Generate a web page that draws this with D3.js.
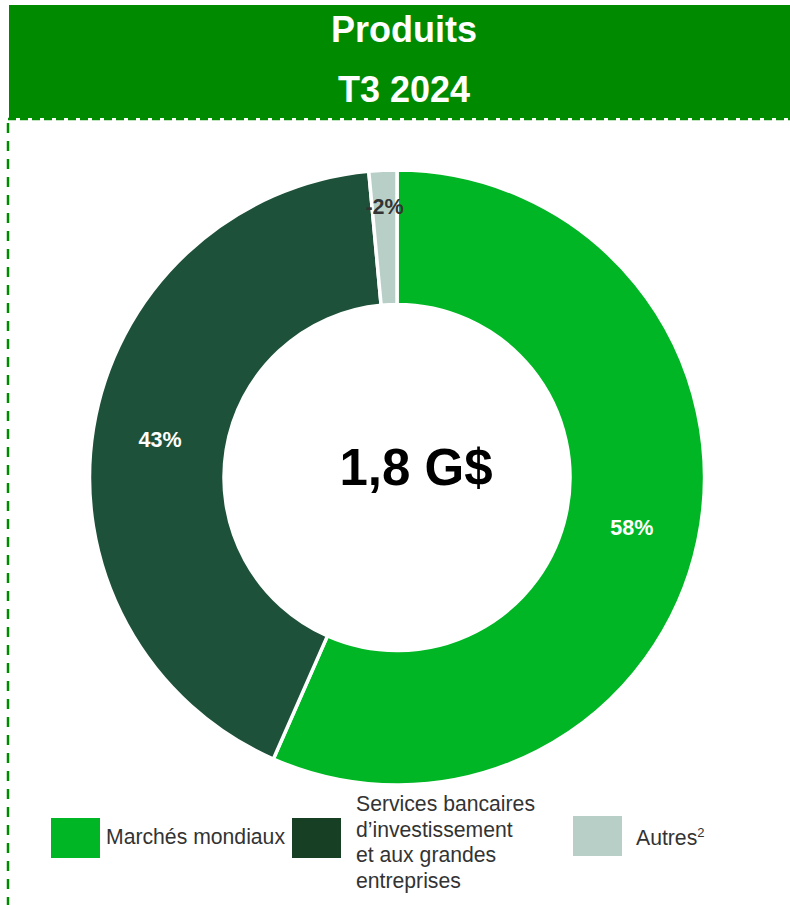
<!DOCTYPE html>
<html>
<head>
<meta charset="utf-8">
<script src="https://cdn.jsdelivr.net/npm/d3@7"></script>
<style>
  html, body { margin: 0; padding: 0; background: #fff; }
  svg { display: block; font-family: "Liberation Sans", Arial, sans-serif; }
</style>
</head>
<body>
<svg id="chart" width="790" height="905"></svg>
<script>
// ---- data ----
const titleLines = ["Produits", "T3 2024"];
const totalLabel = "1,8 G$";
const categories = ["Marchés mondiaux", "Services bancaires d’investissement et aux grandes entreprises", "Autres"];
const shares = [58, 43, -1.5];              // % of revenue (slice size uses magnitude)
const shareLabels = ["58%", "43%", "-2%"];
const sliceColors = ["#00B624", "#1E5139", "#B8CFC8"];
const legendColors = ["#00B624", "#173F24", "#B8CFC8"];
const labelColors = ["#ffffff", "#ffffff", "#333333"];

const svg = d3.select("#chart");

// header
svg.append("rect").attr("x", 9).attr("y", 5).attr("width", 781).attr("height", 113).attr("fill", "#008A00");
svg.append("line").attr("x1", 8).attr("x2", 790).attr("y1", 119).attr("y2", 119)
  .attr("stroke", "#008A00").attr("stroke-width", 2.5).attr("stroke-dasharray", "8,4");
svg.append("line").attr("x1", 8).attr("x2", 8).attr("y1", 123).attr("y2", 905)
  .attr("stroke", "#008A00").attr("stroke-width", 2.5).attr("stroke-dasharray", "10,8");
svg.selectAll("text.title").data(titleLines).enter().append("text")
  .attr("class", "title")
  .attr("x", 404).attr("y", (d, i) => 42 + i * 60)
  .attr("text-anchor", "middle").attr("fill", "#fff")
  .attr("font-weight", "bold").attr("font-size", 36)
  .text(d => d);

// donut
const cx = 397, cy = 477.5, rOuter = 307.5, rInner = 173;
const g = svg.append("g").attr("transform", `translate(${cx},${cy})`);
const pie = d3.pie().sort(null).value(d => Math.abs(d.v));
const arcs = pie(shares.map((v, i) => ({ v, i })));
const arc = d3.arc().innerRadius(rInner).outerRadius(rOuter);
g.selectAll("path").data(arcs).enter().append("path")
  .attr("d", arc)
  .attr("fill", d => sliceColors[d.data.i])
  .attr("stroke", "#fff").attr("stroke-width", 3.5).attr("stroke-linejoin", "miter");

const labelR = [240, 240, 272];
g.selectAll("text.lbl").data(arcs).enter().append("text")
  .attr("class", "lbl")
  .attr("transform", d => {
    const a = (d.startAngle + d.endAngle) / 2;
    const r = labelR[d.data.i];
    return `translate(${r * Math.sin(a)},${-r * Math.cos(a) + 8})`;
  })
  .attr("text-anchor", "middle")
  .attr("font-weight", "bold").attr("font-size", 21.5)
  .attr("fill", d => labelColors[d.data.i])
  .text(d => shareLabels[d.data.i]);

svg.append("text").attr("x", 416).attr("y", 485)
  .attr("text-anchor", "middle").attr("font-weight", "bold").attr("font-size", 51)
  .attr("fill", "#000").text(totalLabel);

// legend
const legendItems = [
  { x: 51, y: 818, tx: 106, lines: ["Marchés mondiaux"], ty: 844 },
  { x: 292, y: 818, tx: 356, lines: ["Services bancaires", "d’investissement", "et aux grandes", "entreprises"], ty: 811 },
  { x: 573, y: 816, tx: 636, lines: ["Autres"], ty: 845, sup: "2" }
];
legendItems.forEach((it, i) => {
  svg.append("rect").attr("x", it.x).attr("y", it.y).attr("width", 49).attr("height", 40)
    .attr("fill", legendColors[i]);
  const t = svg.append("text").attr("x", it.tx).attr("y", it.ty)
    .attr("font-size", 21.2).attr("fill", "#333333");
  it.lines.forEach((l, j) => {
    t.append("tspan").attr("x", it.tx).attr("y", it.ty + j * 25.7).text(l);
  });
  if (it.sup) {
    t.append("tspan").attr("font-size", 13).attr("dy", -8).text(it.sup);
  }
});
</script>
</body>
</html>
